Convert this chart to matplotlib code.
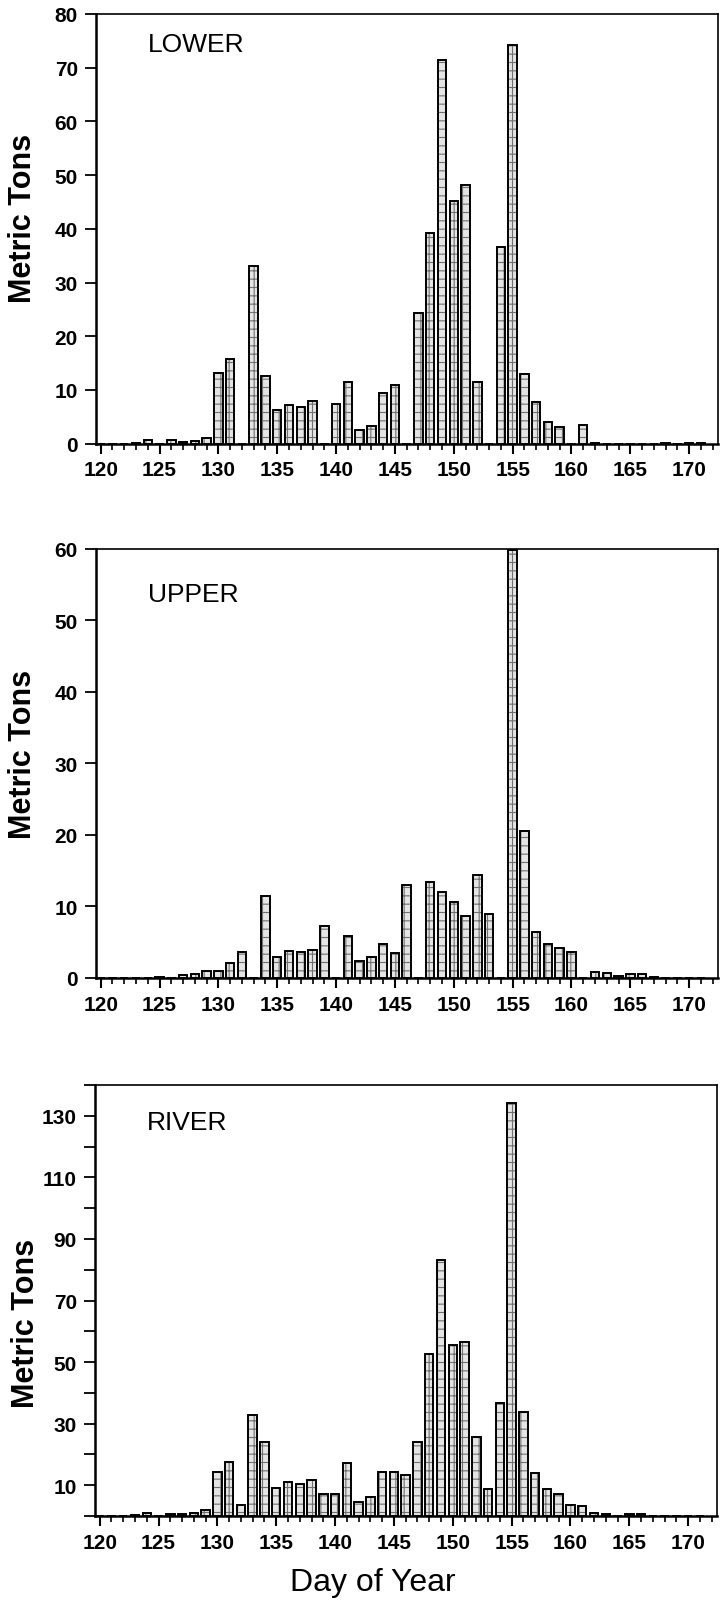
import matplotlib
matplotlib.use("Agg")
import matplotlib.pyplot as plt
import numpy as np

plt.rcParams['font.family'] = ['Liberation Sans', 'DejaVu Sans']
plt.rcParams['hatch.linewidth'] = 0.8

days = [120, 121, 122, 123, 124, 125, 126, 127, 128, 129,
        130, 131, 132, 133, 134, 135, 136, 137, 138, 139,
        140, 141, 142, 143, 144, 145, 146, 147, 148, 149,
        150, 151, 152, 153, 154, 155, 156, 157, 158, 159,
        160, 161, 162, 163, 164, 165, 166, 167, 168, 169,
        170, 171]

lower = [0, 0, 0, 0.2, 0.7, 0, 0.7, 0.3, 0.5, 1.0,
         13.2, 15.8, 0, 33.0, 12.5, 6.3, 7.1, 6.8, 7.9, 0,
         7.3, 11.5, 2.5, 3.3, 9.4, 10.9, 0, 24.4, 39.3, 71.4,
         45.2, 48.1, 11.5, 0, 36.7, 74.2, 12.9, 7.8, 4.1, 3.0,
         0, 3.4, 0.1, 0, 0, 0, 0, 0, 0.1, 0,
         0.1, 0.1]

upper = [0, 0, 0, 0, 0, 0.1, 0, 0.4, 0.5, 1.0,
         1.0, 2.1, 3.7, 0, 11.4, 2.9, 3.8, 3.6, 3.9, 7.3,
         0, 5.8, 2.4, 3.0, 4.8, 3.5, 13.0, 0, 13.4, 12.0,
         10.6, 8.7, 14.4, 9.0, 0, 59.8, 20.5, 6.4, 4.8, 4.2,
         3.6, 0, 0.8, 0.7, 0.3, 0.5, 0.6, 0.2, 0, 0,
         0.05, 0]

river = [0.1, 0, 0, 0.2, 0.9, 0, 0.5, 0.6, 1.0, 1.9,
         14.2, 17.6, 3.7, 32.7, 24.0, 9.2, 10.9, 10.4, 11.8, 7.2,
         7.1, 17.2, 4.6, 6.2, 14.2, 14.4, 13.2, 24.0, 52.5, 83.0,
         55.4, 56.4, 25.8, 8.9, 36.7, 134.0, 33.7, 14.0, 8.7, 7.1,
         3.6, 3.4, 1.0, 0.7, 0, 0.5, 0.5, 0, 0, 0,
         0, 0]

panel_names = ["LOWER", "UPPER", "RIVER"]
y_max = [80, 60, 140]
y_ticks = [list(range(0, 81, 10)), list(range(0, 61, 10)), list(range(0, 141, 10))]
y_labels = [[str(v) for v in range(0, 81, 10)],
            [str(v) for v in range(0, 61, 10)],
            ["" if (v // 10) % 2 == 0 else str(v) for v in range(0, 141, 10)]]
x_major = [120, 125, 130, 135, 140, 145, 150, 155, 160, 165, 170]

W, H = 721, 1608
fig = plt.figure(figsize=(W / 100, H / 100), dpi=100)

# axes boxes in pixels: left, right, top, bottom
boxes = [(96, 718, 15, 444.6), (96, 718, 549.5, 979), (95, 717, 1086, 1517)]
series = [lower, upper, river]
label_offsets = [0.93, 0.895, 0.915]
ylabel_x = [38, 38, 41]
ylabel_y = [0.527, 0.524, 0.45]

for i, (l, r, t, b) in enumerate(boxes):
    ax = fig.add_axes([l / W, 1 - b / H, (r - l) / W, (b - t) / H])
    vals = series[i]
    ax.bar(days, vals, width=0.72, facecolor='#e4e4e4', edgecolor='#707070',
           hatch='++', linewidth=0, zorder=2)
    ax.bar(days, vals, width=0.72, facecolor='none', edgecolor='black',
           linewidth=1.4, zorder=3)
    ax.set_xlim(119.6, 172.45)
    ax.set_ylim(0, y_max[i])
    ax.set_xticks(x_major)
    ax.set_xticks(days + [172], minor=True)
    ax.set_yticks(y_ticks[i])
    ax.set_yticklabels(y_labels[i])
    ax.tick_params(axis='x', which='major', direction='out', length=7, width=1.5,
                   labelsize=15, pad=5)
    ax.tick_params(axis='x', which='minor', direction='out', length=4, width=1.2)
    ax.tick_params(axis='y', which='major', direction='out', length=8, width=1.3,
                   labelsize=15, pad=5)
    for lab in ax.get_xticklabels() + ax.get_yticklabels():
        lab.set_fontweight('bold')
    for side in ['left', 'bottom']:
        ax.spines[side].set_linewidth(1.8)
    for side in ['top', 'right']:
        ax.spines[side].set_linewidth(1.2)
    ax.set_ylabel("Metric Tons", fontsize=22, fontweight='bold')
    ax.yaxis.set_label_coords((ylabel_x[i] - l) / (r - l), ylabel_y[i])
    ax.text(0.084, label_offsets[i], panel_names[i], transform=ax.transAxes,
            fontsize=19, va='center', ha='left')

fig.text(373 / W, 1 - 1583 / H, "Day of Year", fontsize=23, ha='center', va='center')

fig.savefig("out.png", dpi=100)
